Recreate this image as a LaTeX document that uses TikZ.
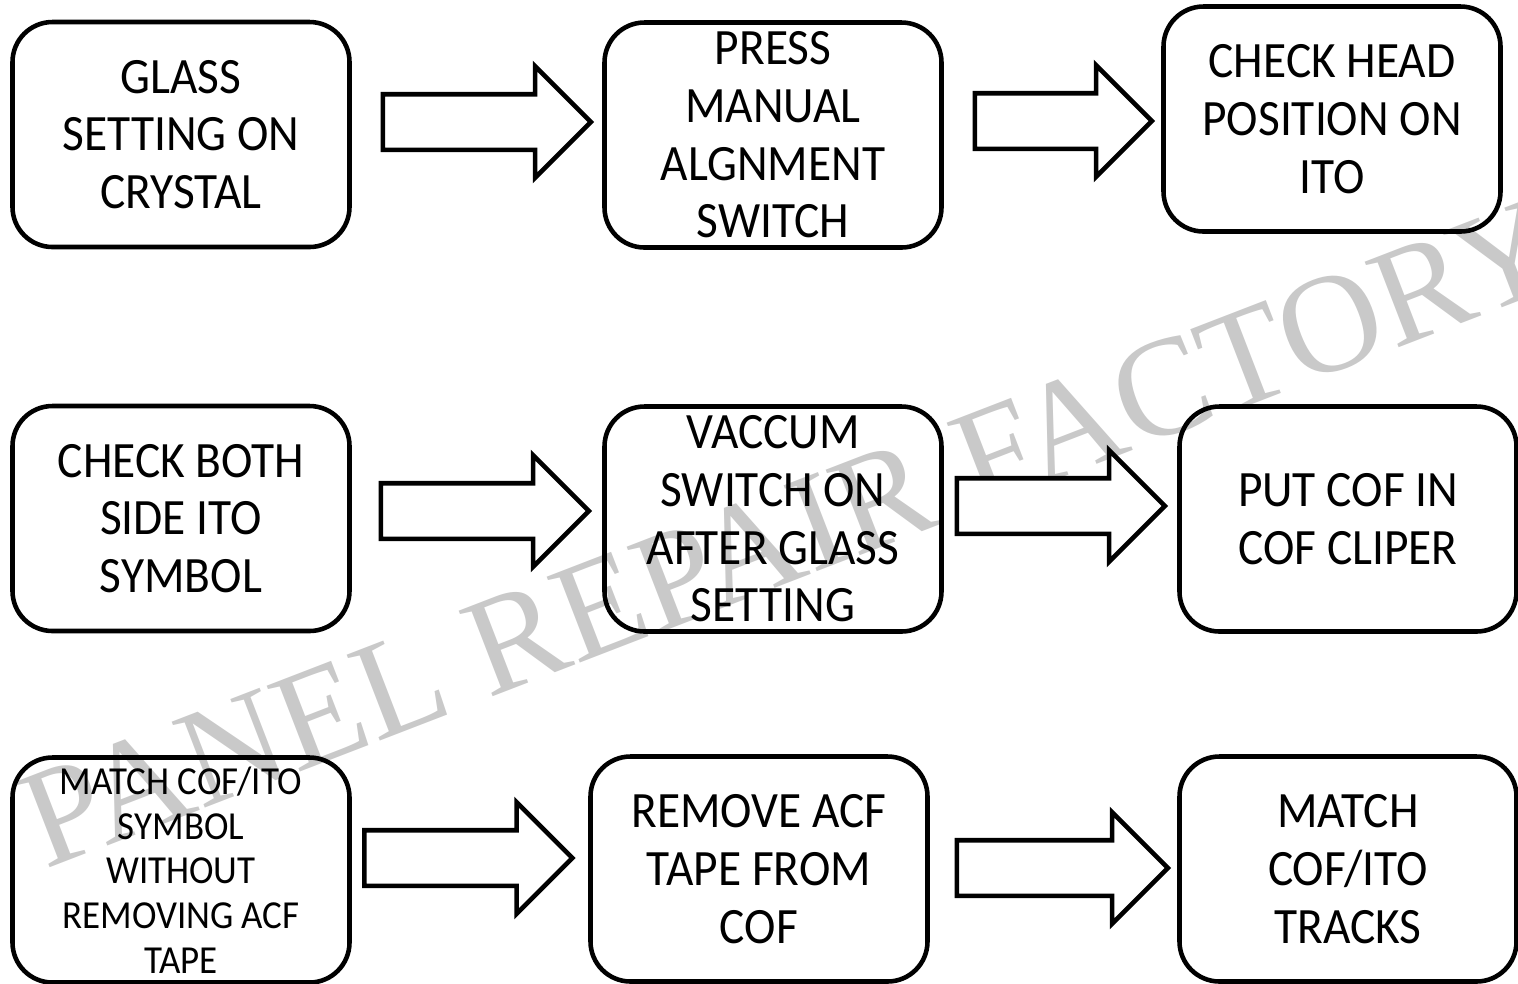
\documentclass[tikz,border=0pt]{standalone}
\usepackage{fontspec}
\setmainfont{Carlito}[FakeStretch=0.93]
\newfontfamily\wmfont{Liberation Serif}
\usetikzlibrary{shapes,arrows,positioning,calc}

\begin{document}
\begin{tikzpicture}
% Define styles
\tikzstyle{stepbox} = [rectangle, draw, line width=1.3pt, rounded corners=0.4cm, minimum width=3.37cm, minimum height=2.25cm, inner sep=0pt, align=center, font=\fontsize{14.5}{16.4}\selectfont]
\tikzstyle{smalltext} = [font=\fontsize{11.3}{12.7}\selectfont]
\tikzstyle{blockarrow} = [single arrow, draw, fill=white, line width=1.3pt, inner xsep=0pt, inner ysep=0.255cm, single arrow head extend=0.28cm, single arrow tip angle=90, minimum height=2.08cm]
\tikzstyle{wmark} = [text=black!21, font=\wmfont\fontsize{40}{40}\selectfont, inner sep=0pt, rotate=21.1, anchor=base west]

\useasboundingbox (0,0) rectangle (15.18,-9.83);

% Watermark
\node[wmark] (wm) at (0.45,-8.70) {PANEL REPAIR FACTORY};

% First row
\node[stepbox] (glass) at (1.81,-1.345) {GLASS\\SETTING ON\\CRYSTAL};
\node[stepbox] (press) at (7.73,-1.35) {PRESS\\MANUAL\\ALGNMENT\\SWITCH};
\node[stepbox] (head) at (13.32,-1.19) {CHECK HEAD\\POSITION ON\\ITO};

% Second row
\node[stepbox] (both) at (1.81,-5.185) {CHECK BOTH\\SIDE ITO\\SYMBOL};
\node[stepbox] (vaccum) at (7.73,-5.19) {VACCUM\\SWITCH ON\\AFTER GLASS\\SETTING};
\node[stepbox] (clip) at (13.48,-5.19) {PUT COF IN\\COF CLIPER};

% Third row
\node[stepbox, smalltext] (symbol) at (1.81,-8.70) {MATCH COF/ITO\\SYMBOL\\WITHOUT\\REMOVING ACF\\TAPE};
\node[stepbox] (acf) at (7.59,-8.69) {REMOVE ACF\\TAPE FROM\\COF};
\node[stepbox] (tracks) at (13.48,-8.69) {MATCH\\COF/ITO\\TRACKS};

% Arrows
\node[blockarrow] (glass-press) at (4.73,-1.22) {};
\node[blockarrow, minimum height=1.77cm] (press-head) at (10.495,-1.21) {};
\node[blockarrow] (both-vaccum) at (4.71,-5.11) {};
\node[blockarrow] (vaccum-clip) at (10.47,-5.06) {};
\node[blockarrow] (symbol-acf) at (4.545,-8.58) {};
\node[blockarrow, minimum height=2.11cm] (acf-tracks) at (10.485,-8.68) {};

\end{tikzpicture}
\end{document}
